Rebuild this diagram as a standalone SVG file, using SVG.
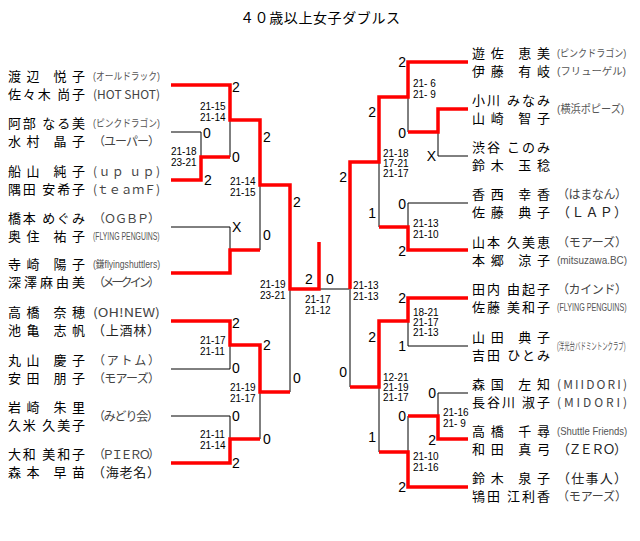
<svg xmlns="http://www.w3.org/2000/svg" width="640" height="541" viewBox="0 0 640 541">
<style>
.n{font-family:"Noto Sans CJK JP","Noto Sans CJK SC",sans-serif;font-size:13px;fill:#000}
.t{font-family:"Noto Sans CJK JP","Noto Sans CJK SC",sans-serif;font-size:12px;fill:#444}
.ts{font-family:"Liberation Sans","Noto Sans CJK JP",sans-serif;font-size:10px;fill:#555}
.s{font-family:"Liberation Sans",sans-serif;font-size:14px;fill:#000}
.g{font-family:"Liberation Sans",sans-serif;font-size:10px;fill:#000}
.b{stroke:#000;stroke-width:1;fill:none}
.r{stroke:#f00;stroke-width:3.5;fill:none;stroke-linejoin:miter}
.ti{font-family:"Noto Sans CJK JP","Noto Sans CJK SC",sans-serif;font-size:14px;fill:#000}
</style>
<rect width="640" height="541" fill="#fff"/>
<text class="ti" x="240" y="23" textLength="160" lengthAdjust="spacing">４０歳以上女子ダブルス</text>

<g id="connectors">
<path class="b" d="M171 132H201V157M230 120V157M171 227H230V250M260 185V250M230 345V369H171M171 416H230V439M260 392V439M290 289V392M319 289H349"/>
<path class="b" d="M408 97V132M438 132V156H468M468 203H408V227M379 162V227M350 289V387M408 321V346H468M379 387V452M468 393H438V416M408 416V452"/>
<polyline class="r" points="171,85 230,85 230,120 260,120 260,185 290,185 290,289 319,289 319,242"/>
<polyline class="r" points="171,180 201,180 201,157 230,157"/>
<polyline class="r" points="171,273 230,273 230,250 260,250"/>
<polyline class="r" points="171,321 230,321 230,345 260,345 260,392 290,392"/>
<polyline class="r" points="171,463 230,463 230,439 260,439"/>
<polyline class="r" points="468,62 408,62 408,97 379,97 379,162 350,162 350,289"/>
<polyline class="r" points="468,109 438,109 438,132 408,132"/>
<polyline class="r" points="468,250 408,250 408,227 379,227"/>
<polyline class="r" points="468,298 408,298 408,321 379,321 379,387 350,387"/>
<polyline class="r" points="468,439 438,439 438,416 408,416"/>
<polyline class="r" points="468,487 408,487 408,452 379,452"/>
</g>

<g id="L1">
<text class="n" x="8" y="81" textLength="77" lengthAdjust="spacing">渡辺 悦子</text>
<text class="n" x="8" y="99" textLength="77" lengthAdjust="spacing">佐々木 尚子</text>
<text class="ts" transform="translate(93,80) scale(0.87,1)" textLength="77" lengthAdjust="spacingAndGlyphs">(オールドラック)</text>
<text class="t" x="93" y="99" textLength="67" lengthAdjust="spacingAndGlyphs">(HOT SHOT)</text>
</g>
<g id="L2">
<text class="n" x="8" y="128" textLength="77" lengthAdjust="spacing">阿部 なる美</text>
<text class="n" x="8" y="146" textLength="77" lengthAdjust="spacing">水村 晶子</text>
<text class="ts" transform="translate(93,127) scale(0.87,1)" textLength="77" lengthAdjust="spacingAndGlyphs">(ピンクドラゴン)</text>
<text class="t" x="93" y="146" textLength="67" lengthAdjust="spacing">（ユーパー）</text>
</g>
<g id="L3">
<text class="n" x="8" y="176" textLength="77" lengthAdjust="spacing">船山 純子</text>
<text class="n" x="8" y="194" textLength="77" lengthAdjust="spacing">隅田 安希子</text>
<text class="t" x="93" y="176" textLength="67" lengthAdjust="spacing">(ｕｐ ｕｐ)</text>
<text class="t" x="93" y="194" textLength="67" lengthAdjust="spacing">(ｔｅａｍＦ)</text>
</g>
<g id="L4">
<text class="n" x="8" y="223" textLength="77" lengthAdjust="spacing">橋本 めぐみ</text>
<text class="n" x="8" y="241" textLength="77" lengthAdjust="spacing">奥住 祐子</text>
<text class="t" x="93" y="223" textLength="67" lengthAdjust="spacing">（ＯＧＢＰ）</text>
<text class="ts" transform="translate(93,240) scale(0.68,1)" textLength="98" lengthAdjust="spacingAndGlyphs">(FLYING PENGUINS)</text>
</g>
<g id="L5">
<text class="n" x="8" y="269" textLength="77" lengthAdjust="spacing">寺崎 陽子</text>
<text class="n" x="8" y="287" textLength="77" lengthAdjust="spacing">深澤麻由美</text>
<text class="ts" transform="translate(93,268) scale(0.86,1)" textLength="78" lengthAdjust="spacingAndGlyphs">(鎌flyingshuttlers)</text>
<text class="t" x="93" y="287" textLength="67" lengthAdjust="spacing">（メークイン）</text>
</g>
<g id="L6">
<text class="n" x="8" y="317" textLength="77" lengthAdjust="spacing">高橋 奈穂</text>
<text class="n" x="8" y="335" textLength="77" lengthAdjust="spacing">池亀 志帆</text>
<text class="t" x="93" y="317" textLength="67" lengthAdjust="spacingAndGlyphs">(OH!NEW)</text>
<text class="n" x="92" y="335" textLength="68" lengthAdjust="spacing" style="fill:#222">（上酒林）</text>
</g>
<g id="L7">
<text class="n" x="8" y="365" textLength="77" lengthAdjust="spacing">丸山 慶子</text>
<text class="n" x="8" y="383" textLength="77" lengthAdjust="spacing">安田 朋子</text>
<text class="t" x="93" y="365" textLength="67" lengthAdjust="spacing">（アトム）</text>
<text class="t" x="93" y="383" textLength="67" lengthAdjust="spacing">（モアーズ）</text>
</g>
<g id="L8">
<text class="n" x="8" y="412" textLength="77" lengthAdjust="spacing">岩崎 朱里</text>
<text class="n" x="8" y="430" textLength="77" lengthAdjust="spacing">久米 久美子</text>
<text class="t" x="93" y="421" textLength="66" lengthAdjust="spacing">（みどり会）</text>
</g>
<g id="L9">
<text class="n" x="8" y="459" textLength="77" lengthAdjust="spacing">大和 美和子</text>
<text class="n" x="8" y="477" textLength="77" lengthAdjust="spacing">森本 早苗</text>
<text class="t" x="93" y="459" textLength="67" lengthAdjust="spacing">（ＰＩＥＲＯ）</text>
<text class="n" x="92" y="477" textLength="68" lengthAdjust="spacing" style="fill:#222">（海老名）</text>
</g>

<g id="R1">
<text class="n" x="472" y="58" textLength="78" lengthAdjust="spacing">遊佐 恵美</text>
<text class="n" x="472" y="76" textLength="78" lengthAdjust="spacing">伊藤 有岐</text>
<text class="ts" transform="translate(557,57) scale(0.9,1)" textLength="77" lengthAdjust="spacingAndGlyphs">(ピンクドラゴン)</text>
<text class="ts" transform="translate(557,75)" textLength="69" lengthAdjust="spacingAndGlyphs">(フリューゲル)</text>
</g>
<g id="R2">
<text class="n" x="472" y="105" textLength="78" lengthAdjust="spacing">小川 みなみ</text>
<text class="n" x="472" y="123" textLength="78" lengthAdjust="spacing">山崎 智子</text>
<text class="ts" transform="translate(557,113) scale(0.92,1)" textLength="73" lengthAdjust="spacingAndGlyphs" style="font-size:11px">(横浜ポピーズ)</text>
</g>
<g id="R3">
<text class="n" x="472" y="152" textLength="78" lengthAdjust="spacing">渋谷 このみ</text>
<text class="n" x="472" y="170" textLength="78" lengthAdjust="spacing">鈴木 玉稔</text>
</g>
<g id="R4">
<text class="n" x="472" y="199" textLength="78" lengthAdjust="spacing">香西 幸香</text>
<text class="n" x="472" y="217" textLength="78" lengthAdjust="spacing">佐藤 典子</text>
<text class="t" x="557" y="199" textLength="70" lengthAdjust="spacing">（はまなん）</text>
<text class="n" x="557" y="217" textLength="70" lengthAdjust="spacing" style="fill:#222">（ＬＡＰ）</text>
</g>
<g id="R5">
<text class="n" x="472" y="247" textLength="78" lengthAdjust="spacing">山本 久美恵</text>
<text class="n" x="472" y="265" textLength="78" lengthAdjust="spacing">本郷 涼子</text>
<text class="t" x="557" y="247" textLength="70" lengthAdjust="spacing">（モアーズ）</text>
<text class="ts" transform="translate(557,264)" textLength="70" lengthAdjust="spacingAndGlyphs">(mitsuzawa.BC)</text>
</g>
<g id="R6">
<text class="n" x="472" y="294" textLength="78" lengthAdjust="spacing">田内 由起子</text>
<text class="n" x="472" y="312" textLength="78" lengthAdjust="spacing">佐藤 美和子</text>
<text class="t" x="557" y="294" textLength="70" lengthAdjust="spacing">（カインド）</text>
<text class="ts" transform="translate(557,311) scale(0.71,1)" textLength="98" lengthAdjust="spacingAndGlyphs">(FLYING PENGUINS)</text>
</g>
<g id="R7">
<text class="n" x="472" y="342" textLength="78" lengthAdjust="spacing">山田 典子</text>
<text class="n" x="472" y="360" textLength="78" lengthAdjust="spacing">吉田 ひとみ</text>
<text class="ts" transform="translate(557,350) scale(0.54,1)" textLength="127" lengthAdjust="spacingAndGlyphs">(洋光台バドミントンクラブ)</text>
</g>
<g id="R8">
<text class="n" x="472" y="389" textLength="78" lengthAdjust="spacing">森国 左知</text>
<text class="n" x="472" y="407" textLength="78" lengthAdjust="spacing">長谷川 淑子</text>
<text class="t" x="557" y="389" textLength="70" lengthAdjust="spacing">(MIIDORI)</text>
<text class="t" x="557" y="407" textLength="70" lengthAdjust="spacing">(MIDORI)</text>
</g>
<g id="R9">
<text class="n" x="472" y="436" textLength="78" lengthAdjust="spacing">高橋 千尋</text>
<text class="n" x="472" y="454" textLength="78" lengthAdjust="spacing">和田 真弓</text>
<text class="ts" transform="translate(557,435) scale(0.95,1)" textLength="74" lengthAdjust="spacingAndGlyphs">(Shuttle Friends)</text>
<text class="n" x="557" y="454" textLength="70" lengthAdjust="spacing" style="fill:#222">（ＺＥＲＯ）</text>
</g>
<g id="R10">
<text class="n" x="472" y="483" textLength="78" lengthAdjust="spacing">鈴木 泉子</text>
<text class="n" x="472" y="501" textLength="78" lengthAdjust="spacing">鴇田 江利香</text>
<text class="n" x="557" y="483" textLength="70" lengthAdjust="spacing" style="fill:#222">（仕事人）</text>
<text class="t" x="557" y="501" textLength="70" lengthAdjust="spacing">（モアーズ）</text>
</g>

<g id="scores">
<text class="s" x="232" y="92">2</text>
<text class="s" x="203" y="138">0</text>
<text class="s" x="232" y="162">0</text>
<text class="s" x="204" y="185">2</text>
<text class="s" x="263" y="142">2</text>
<text class="s" x="232" y="232">X</text>
<text class="s" x="263" y="240">0</text>
<text class="s" x="293" y="207">2</text>
<text class="s" x="305" y="284">2</text>
<text class="s" x="326" y="284">0</text>
<text class="s" x="232" y="328">2</text>
<text class="s" x="263" y="350">2</text>
<text class="s" x="232" y="373">0</text>
<text class="s" x="293" y="383">0</text>
<text class="s" x="232" y="421">0</text>
<text class="s" x="263" y="444">0</text>
<text class="s" x="232" y="468">2</text>
<g text-anchor="end">
<text class="s" x="406" y="67">2</text>
<text class="s" x="376" y="117">2</text>
<text class="s" x="406" y="138">0</text>
<text class="s" x="436" y="161">X</text>
<text class="s" x="347" y="182">2</text>
<text class="s" x="406" y="209">0</text>
<text class="s" x="376" y="218">1</text>
<text class="s" x="406" y="256">2</text>
<text class="s" x="406" y="303">2</text>
<text class="s" x="376" y="342">2</text>
<text class="s" x="406" y="351">1</text>
<text class="s" x="347" y="377">0</text>
<text class="s" x="436" y="398">0</text>
<text class="s" x="406" y="421">0</text>
<text class="s" x="436" y="445">2</text>
<text class="s" x="376" y="442">1</text>
<text class="s" x="406" y="492">2</text>
</g>
</g>

<g id="games">
<text class="g" x="200" y="110">21-15</text><text class="g" x="200" y="121">21-14</text>
<text class="g" x="171" y="155">21-18</text><text class="g" x="171" y="166">23-21</text>
<text class="g" x="230" y="185">21-14</text><text class="g" x="230" y="196">21-15</text>
<text class="g" x="260" y="288">21-19</text><text class="g" x="260" y="299">23-21</text>
<text class="g" x="305" y="303">21-17</text><text class="g" x="305" y="314">21-12</text>
<text class="g" x="200" y="344">21-17</text><text class="g" x="200" y="355">21-11</text>
<text class="g" x="230" y="391">21-19</text><text class="g" x="230" y="402">21-17</text>
<text class="g" x="200" y="438">21-11</text><text class="g" x="200" y="449">21-14</text>
<text class="g" x="353" y="289">21-13</text><text class="g" x="353" y="300">21-13</text>
<text class="g" x="413" y="87">21- 6</text><text class="g" x="413" y="98">21- 9</text>
<text class="g" x="383" y="157">21-18</text><text class="g" x="383" y="167">17-21</text><text class="g" x="383" y="177">21-17</text>
<text class="g" x="413" y="227">21-13</text><text class="g" x="413" y="238">21-10</text>
<text class="g" x="413" y="316">18-21</text><text class="g" x="413" y="326">21-17</text><text class="g" x="413" y="336">21-13</text>
<text class="g" x="383" y="381">12-21</text><text class="g" x="383" y="391">21-19</text><text class="g" x="383" y="401">21-17</text>
<text class="g" x="443" y="416">21-16</text><text class="g" x="443" y="427">21- 9</text>
<text class="g" x="413" y="460">21-10</text><text class="g" x="413" y="471">21-16</text>
</g>
</svg>
